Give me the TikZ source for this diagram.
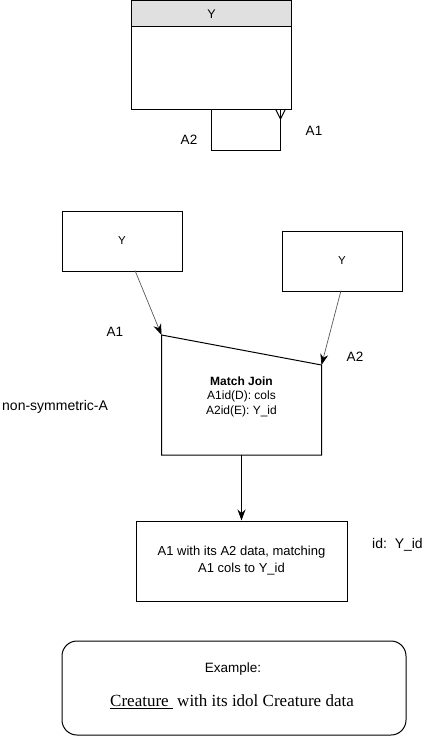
\documentclass[tikz,border=0pt]{standalone}
\usepackage{fontspec}
\setmainfont{Liberation Sans}
\newfontfamily\seriffont{Liberation Serif}
\usetikzlibrary{arrows.meta}
\tikzset{
  box/.style={draw=black, line width=1pt, fill=white, inner sep=0pt},
  lbl/.style={font=\fontsize{13.5}{16}\selectfont, inner sep=0pt},
  graylink/.style={draw=black!65, line width=0.7pt, -{Stealth[length=11pt,width=8pt,fill=black,color=black]}},
  blacklink/.style={draw=black, line width=1pt, -{Stealth[length=11pt,width=8pt,fill=black]}},
  erline/.style={draw=black, line width=1pt},
}
\begin{document}
\begin{tikzpicture}[x=1pt,y=-1pt]
\useasboundingbox (0,0) rectangle (446,736);
% top entity table
\node[inner sep=0pt, minimum width=160pt, minimum height=108.5pt, anchor=north west] (tab) at (131.5,0.5) {};
\fill[black!12] (131.5,0.5) rectangle (291.5,26);
\draw[line width=1pt] (tab.north west) rectangle (tab.south east);
\draw[line width=1pt] (131.5,26) -- (291.5,26);
\node[font=\fontsize{12.5}{14}\selectfont, inner sep=0pt] (tabtitle) at (211.5,14) {Y};
% self relationship
\coordinate (s1) at (211.5,109);
\coordinate (s2) at (211.5,150);
\coordinate (s3) at (280.5,150);
\coordinate (s4) at (280.5,109);
\coordinate (cf) at (280.5,119);
\draw[erline] (s1) -- (s2) -- (s3) -- (s4);
\draw[erline] (275.5,109) -- (cf) -- (285.5,109);
\node[lbl] (la2top) at (189,140) {A2};
\node[lbl] (la1top) at (314,131) {A1};
% two source boxes
\node[box, minimum width=120pt, minimum height=60pt, anchor=north west, font=\fontsize{11.5}{13}\selectfont] (y1) at (61.5,210.5) {Y};
\node[box, minimum width=120pt, minimum height=60pt, anchor=north west, font=\fontsize{11.5}{13}\selectfont] (y2) at (281.5,230.5) {Y};
% match join shape
\coordinate (mtl) at (161.5,335);
\coordinate (mtr) at (321.5,365);
\coordinate (mbr) at (321.5,455);
\coordinate (mbl) at (161.5,455);
\draw[line width=1pt] (mtl) -- (mtr) -- (mbr) -- (mbl) -- cycle;
\node[font=\fontsize{12}{14.5}\selectfont, align=center, inner sep=0pt] (mj) at (241.5,396.5) {\textbf{Match Join}\\A1id(D): cols\\A2id(E): Y\_id};
\coordinate (mjb) at (241.5,455);
% arrows
\coordinate (y1out) at (135,270.5);
\coordinate (y2out) at (341,290.5);
\draw[graylink] (y1out) -- (mtl);
\draw[graylink] (y2out) -- (mtr);
\node[lbl] (la1) at (115,332) {A1};
\node[lbl] (la2) at (355,357) {A2};
\node[lbl, font=\fontsize{14}{16}\selectfont, anchor=west] (nsa) at (2,407) {non-symmetric-A};
% result box
\node[box, minimum width=211pt, minimum height=80pt, anchor=north west, align=center, font=\fontsize{13}{17}\selectfont] (res) at (135.5,520.5) {A1 with its A2 data, matching\\A1 cols to Y\_id};
\draw[blacklink] (mjb) -- (res.north);
\node[lbl, font=\fontsize{14}{16}\selectfont, anchor=west] (idl) at (372,545) {id:\ \ Y\_id};
% example box
\node[draw=black, line width=1pt, rounded corners=15pt, minimum width=344pt, minimum height=94pt, anchor=north west, inner sep=0pt] (ex) at (61.5,640.5) {};
\node[font=\fontsize{13.5}{15}\selectfont, inner sep=0pt] (exl1) at (233,669) {Example:};
\node[font=\seriffont\fontsize{17}{19}\selectfont, inner sep=0pt] (exl2) at (232,702) {\underline{Creature\ }\ with its idol Creature data};
\end{tikzpicture}
\end{document}
